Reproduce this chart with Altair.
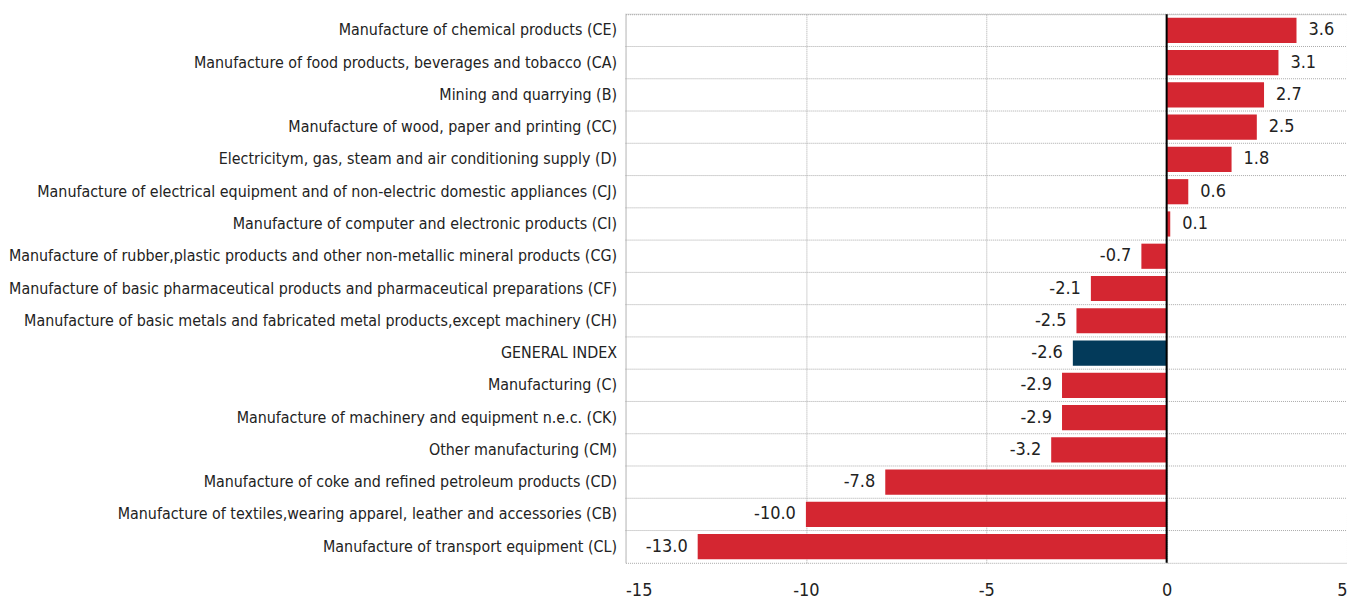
import altair as alt
import pandas as pd

categories = [
    "Manufacture of chemical products (CE)",
    "Manufacture of food products, beverages and tobacco (CA)",
    "Mining and quarrying (B)",
    "Manufacture of wood, paper and printing (CC)",
    "Electricitym, gas, steam and air conditioning supply (D)",
    "Manufacture of electrical equipment and of non-electric domestic appliances (CJ)",
    "Manufacture of computer and electronic products (CI)",
    "Manufacture of rubber,plastic products and other non-metallic mineral products (CG)",
    "Manufacture of basic pharmaceutical products and pharmaceutical preparations (CF)",
    "Manufacture of basic metals and fabricated metal products,except machinery  (CH)",
    "GENERAL INDEX",
    "Manufacturing (C)",
    "Manufacture of machinery and equipment n.e.c. (CK)",
    "Other manufacturing (CM)",
    "Manufacture of coke and refined petroleum products (CD)",
    "Manufacture of textiles,wearing apparel, leather and accessories (CB)",
    "Manufacture of transport equipment (CL)",
]
values = [3.6, 3.1, 2.7, 2.5, 1.8, 0.6, 0.1, -0.7, -2.1, -2.5, -2.6, -2.9, -2.9, -3.2, -7.8, -10.0, -13.0]
groups = ["sector"] * 10 + ["total"] + ["sector"] * 6
x_ticks = [-15, -10, -5, 0, 5]

df = pd.DataFrame({"cat": categories, "value": values, "group": groups})

W, H = 722, 549
step = H / len(categories)
FONT = "'DejaVu Sans Condensed', 'Liberation Sans', sans-serif"

y_enc = alt.Y("cat:N", sort=categories, title=None,
              scale=alt.Scale(paddingInner=0.22, paddingOuter=0.11),
              axis=alt.Axis(labelLimit=0, labelFontSize=15.9, labelFont=FONT,
                            labelColor="#222", labelPadding=9, ticks=False,
                            domain=False, grid=False))
x_enc = alt.X("value:Q", title=None,
              scale=alt.Scale(domain=[-15, 5], nice=False),
              axis=alt.Axis(values=x_ticks, labelFontSize=18, labelFont=FONT,
                            labelColor="#222", labelPadding=19, ticks=False,
                            domain=False, grid=True, gridColor="#aaaaaa",
                            gridDash=[1, 1], gridWidth=1,
                            labelExpr="replace(datum.label, '\u2212', '-')"))

base = alt.Chart(df).transform_calculate(
    lbl="replace(format(datum.value, '.1f'), '\u2212', '-')")

hgrid = base.mark_rule(color="#aaaaaa", strokeDash=[1, 1], strokeWidth=1,
                       yOffset=-step / 2).encode(
    y=y_enc, x=alt.value(0), x2=alt.value(W))

bars = base.mark_bar().encode(
    y=y_enc, x=x_enc,
    color=alt.Color("group:N", scale=alt.Scale(domain=["sector", "total"],
                                               range=["#d42631", "#033a5a"]),
                    legend=None))

zero = alt.Chart(pd.DataFrame({"z": [0]})).mark_rule(color="black", strokeWidth=2).encode(
    x=alt.X("z:Q"))

lab_pos = base.transform_filter("datum.value >= 0").mark_text(
    align="left", dx=12, fontSize=18, font=FONT, color="#222").encode(
    y=y_enc, x=x_enc, text="lbl:N")
lab_neg = base.transform_filter("datum.value < 0").mark_text(
    align="right", dx=-10, fontSize=18, font=FONT, color="#222").encode(
    y=y_enc, x=x_enc, text="lbl:N")

chart = alt.layer(hgrid, bars, zero, lab_pos, lab_neg).properties(
    width=W, height=H,
    autosize=alt.AutoSizeParams(type="none"),
    padding={"left": 618, "top": 6, "right": 0, "bottom": 38},
).configure_view(stroke="#aaaaaa", strokeDash=[1, 1], strokeWidth=1)

chart.save("out.html", embed_options={"renderer": "svg", "actions": False})
